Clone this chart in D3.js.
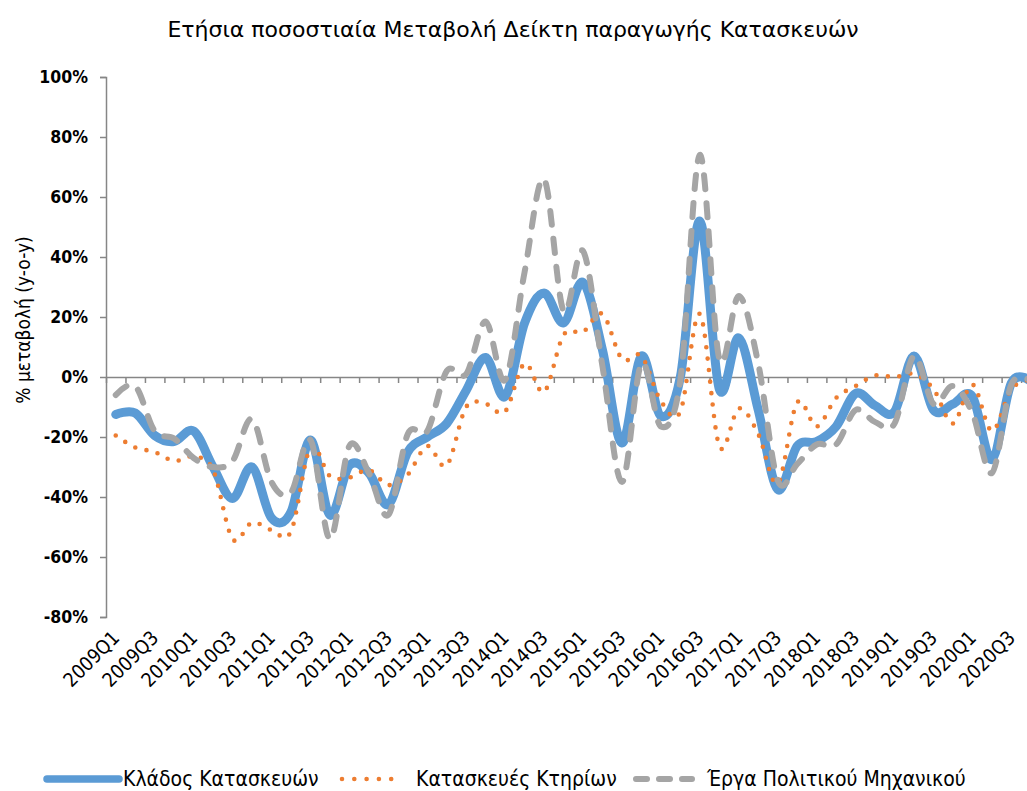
<!DOCTYPE html>
<html>
<head>
<meta charset="utf-8">
<script src="https://cdn.jsdelivr.net/npm/d3@7"></script>
<style>
  html, body { margin: 0; padding: 0; background: #fff; }
  svg { display: block; }
  text { font-family: "DejaVu Sans Condensed", "DejaVu Sans", sans-serif; fill: #000; }
</style>
</head>
<body>
<svg id="chart" width="1027" height="791"></svg>
<script>
const categories = [
  "2009Q1","2009Q2","2009Q3","2009Q4","2010Q1","2010Q2","2010Q3","2010Q4",
  "2011Q1","2011Q2","2011Q3","2011Q4","2012Q1","2012Q2","2012Q3","2012Q4",
  "2013Q1","2013Q2","2013Q3","2013Q4","2014Q1","2014Q2","2014Q3","2014Q4",
  "2015Q1","2015Q2","2015Q3","2015Q4","2016Q1","2016Q2","2016Q3","2016Q4",
  "2017Q1","2017Q2","2017Q3","2017Q4","2018Q1","2018Q2","2018Q3","2018Q4",
  "2019Q1","2019Q2","2019Q3","2019Q4","2020Q1","2020Q2","2020Q3","2020Q4"
];
const tickLabels = categories.filter((c, i) => i % 2 === 0);

// % year-on-year change
const kladosKataskevon = [-12.5, -12, -19.5, -21.5, -18, -30, -40.5, -30, -47, -45, -21, -46, -29.5, -32, -42.5, -25,
  -20, -15.5, -4.5, 6.5, -6.5, 18, 28, 18, 31.5, 9, -22, 7, -13, 0, 52, -4,
  13, -11, -37.5, -23, -21.5, -16.5, -5.5, -9.5, -11.5, 7, -11, -9, -6.5, -27.5, -2, -1.5];
const kataskevesKtirion = [-19.5, -23.5, -25, -28, -26.5, -31, -54, -48.5, -51, -51.5, -23.5, -33, -33.5, -31, -36, -32.5,
  -23, -29.5, -10, -9, -11.5, 4.5, -5, 14, 15, 21, 6, 7, -8, -11.5, 21, -23,
  -10.5, -19, -35.5, -8.5, -16.5, -7, -3, 0.5, 0, 1, -4, -15.5, -2.5, -18, -4, -1];
const ergaPolitikouMichanikou = [-6, -3, -18, -20.5, -27, -30, -28, -14, -35, -38.5, -21, -54, -23, -32, -46, -19,
  -18, 2, 1, 18.5, -1, 35, 66, 22, 42, 3.5, -35, 4.5, -16.5, -1, 74, 6,
  27, 4.5, -34.5, -29, -22.5, -22.5, -11, -15, -15.5, 7, -9, -3, -12, -32, -2.5, -1.5];

const yTicks = [-80, -60, -40, -20, 0, 20, 40, 60, 80, 100];

const seriesNames = ["Κλάδος Κατασκευών", "Κατασκευές Κτηρίων", "Έργα Πολιτικού Μηχανικού"];
const seriesData = [kladosKataskevon, kataskevesKtirion, ergaPolitikouMichanikou];
const seriesStyle = [
  { color: "#5B9BD5", width: 9, dash: null },
  { color: "#ED7D31", width: 4.6, dash: "0,11.5" },
  { color: "#A5A5A5", width: 6, dash: "14,14" }
];

const svg = d3.select("#chart");
const plot = { left: 106, top: 77, bottom: 617, step: 19.47 };
const plotRight = plot.left + plot.step * categories.length;

const x = d3.scaleBand().domain(categories).range([plot.left, plotRight]).padding(0);
const xEdge = d3.scaleLinear().domain([0, categories.length]).range([plot.left, plotRight]);
const y = d3.scaleLinear().domain([-80, 100]).range([plot.bottom, plot.top]);
const xc = c => x(c) + x.bandwidth() / 2;

// Title
svg.append("text").attr("x", 513).attr("y", 37).attr("text-anchor", "middle")
  .style("font-size", "22px").style("font-family", "'DejaVu Sans', sans-serif")
  .text("Ετήσια ποσοστιαία Μεταβολή Δείκτη παραγωγής Κατασκευών");

// Y axis
const yAxis = d3.axisLeft(y).tickValues(yTicks).tickSize(6).tickPadding(12)
  .tickFormat(d => d + "%");
const gy = svg.append("g").attr("transform", `translate(${plot.left},0)`).call(yAxis);
gy.select(".domain").attr("stroke", "#868686").attr("stroke-width", 1.5);
gy.selectAll(".tick line").attr("stroke", "#868686").attr("stroke-width", 1.5);
gy.selectAll(".tick text").style("font-size", "17.5px").style("font-weight", "bold")
  .style("font-family", "'DejaVu Sans Condensed', sans-serif").attr("fill", "#000");

// Y axis title
svg.append("text").attr("transform", "translate(30,320) rotate(-90)").attr("text-anchor", "middle")
  .style("font-size", "19px").text("% μεταβολή (y-o-y)");

// X axis at zero line
const xAxis = d3.axisBottom(xEdge).tickValues(d3.range(0, categories.length + 1)).tickSize(6)
  .tickFormat("").tickSizeOuter(0);
const gx = svg.append("g").attr("transform", `translate(0,${y(0)})`).call(xAxis);
gx.select(".domain").attr("stroke", "#868686").attr("stroke-width", 1.5);
gx.selectAll(".tick line").attr("stroke", "#868686").attr("stroke-width", 1.5);

// X tick labels (bottom, rotated)
svg.append("g").selectAll("text").data(tickLabels).join("text")
  .attr("transform", d => `translate(${xc(d) + 5},${639}) rotate(-45)`)
  .attr("text-anchor", "end")
  .style("font-size", "19.5px")
  .text(d => d);

// Lines
const line = d3.line().curve(d3.curveCatmullRom.alpha(0))
  .x((d, i) => xc(categories[i])).y(d => y(d));

[0, 1, 2].forEach(k => {
  const st = seriesStyle[k];
  const p = svg.append("path").datum(seriesData[k]).attr("d", line)
    .attr("fill", "none").attr("stroke", st.color).attr("stroke-width", st.width)
    .attr("stroke-linecap", "round").attr("stroke-linejoin", "round");
  if (st.dash) p.attr("stroke-dasharray", st.dash);
});

// Legend
const legendItems = [
  { x1: 47, x2: 119, tx: 123 },
  { x1: 342, x2: 402, tx: 416 },
  { x1: 636, x2: 692, tx: 707 }
];
const lg = svg.append("g");
legendItems.forEach((it, k) => {
  const st = seriesStyle[k];
  const l = lg.append("line").attr("x1", it.x1).attr("x2", it.x2).attr("y1", 779).attr("y2", 779)
    .attr("stroke", st.color).attr("stroke-width", k === 0 ? 7.5 : st.width)
    .attr("stroke-linecap", "round");
  if (k === 1) l.attr("stroke-dasharray", "0,12.3");
  if (k === 2) l.attr("stroke-dasharray", "11,12");
  lg.append("text").attr("x", it.tx).attr("y", 786).style("font-size", "21px").text(seriesNames[k]);
});
</script>
</body>
</html>
